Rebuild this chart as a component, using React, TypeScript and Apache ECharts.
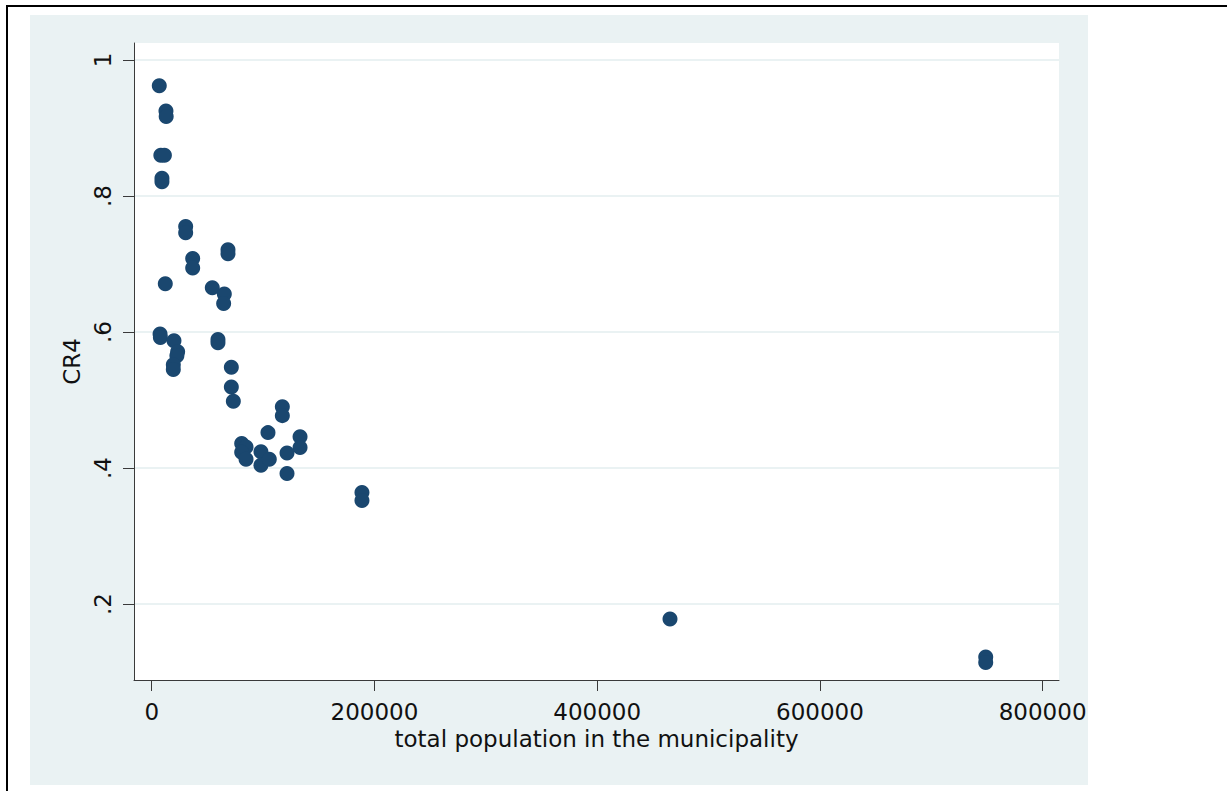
import React, { useEffect, useRef } from "react";
import * as echarts from "echarts";

// total population in the municipality
const population = [
  6800, 12800, 13000, 8200, 11400, 9200, 9200, 30500, 30500, 68500,
  68500, 36800, 36800, 12200, 54400, 65200, 64600, 7500, 7800, 20000,
  23300, 22600, 19400, 19400, 59500, 59500, 71500, 71500, 73300, 117300,
  117300, 104400, 133200, 133200, 80800, 84700, 80800, 84700, 98100, 98100,
  105600, 121500, 121500, 188800, 188800, 465400, 748900, 748900,
];
// CR4
const cr4 = [
  0.962, 0.925, 0.917, 0.86, 0.86, 0.826, 0.821, 0.755, 0.746, 0.721,
  0.715, 0.708, 0.694, 0.671, 0.665, 0.656, 0.642, 0.597, 0.592, 0.587,
  0.571, 0.565, 0.552, 0.545, 0.589, 0.584, 0.548, 0.519, 0.498, 0.49,
  0.477, 0.452, 0.446, 0.43, 0.436, 0.431, 0.423, 0.413, 0.424, 0.404,
  0.413, 0.422, 0.392, 0.364, 0.352, 0.178, 0.122, 0.114,
];
const xTicks = [0, 200000, 400000, 600000, 800000];
const yTicks = [0.2, 0.4, 0.6, 0.8, 1];
const xTitle = "total population in the municipality";
const yTitle = "CR4";

const FONT = "DejaVu Sans";
const AXIS = "#3a3a3a";

export default function App() {
  const ref = useRef<HTMLDivElement>(null);
  useEffect(() => {
    if (!ref.current) return;
    const chart = echarts.init(ref.current, undefined, { renderer: "svg" });
    const data = population.map((p, i) => [p, cr4[i]]);
    chart.setOption({
      animation: false,
      grid: {
        left: 134,
        top: 43,
        right: 168,
        bottom: 111,
        show: true,
        backgroundColor: "#ffffff",
        borderWidth: 0,
      },
      xAxis: {
        type: "value",
        min: -15900,
        max: 814700,
        name: xTitle,
        nameLocation: "middle",
        nameGap: 46,
        nameTextStyle: { fontFamily: FONT, fontSize: 23, color: "#111" },
        axisLine: { show: true, onZero: false, lineStyle: { color: AXIS, width: 1 } },
        axisTick: { show: true, length: 11, lineStyle: { color: AXIS }, customValues: xTicks },
        axisLabel: {
          fontFamily: FONT,
          fontSize: 23,
          color: "#111",
          margin: 20,
          customValues: xTicks,
          formatter: (v: number) => String(v),
        },
        splitLine: { show: false },
      },
      yAxis: {
        type: "value",
        min: 0.0882,
        max: 1.025,
        name: yTitle,
        nameLocation: "middle",
        nameRotate: 90,
        nameGap: 46,
        nameTextStyle: { fontFamily: FONT, fontSize: 23, color: "#111" },
        axisLine: { show: true, onZero: false, lineStyle: { color: AXIS, width: 1 } },
        axisTick: { show: true, length: 11, lineStyle: { color: AXIS }, customValues: yTicks },
        axisLabel: {
          fontFamily: FONT,
          fontSize: 23,
          color: "#111",
          margin: 20,
          rotate: 90,
          customValues: yTicks,
          formatter: (v: number) => {
            const s = String(Math.round(v * 10) / 10);
            return s.startsWith("0.") ? s.slice(1) : s;
          },
        },
        splitLine: { show: true, lineStyle: { color: "#eaf2f3", width: 2 } },
      },
      series: [
        {
          type: "scatter",
          data,
          symbol: "circle",
          symbolSize: 15,
          itemStyle: { color: "#1a476f", opacity: 1 },
        },
      ],
    });
    return () => chart.dispose();
  }, []);

  return (
    <div style={{ position: "fixed", left: 0, top: 0, width: 1227, height: 791, background: "#fff", overflow: "hidden" }}>
      <div
        style={{
          position: "absolute",
          left: 6,
          top: 5,
          width: 1400,
          height: 1000,
          borderTop: "2px solid #000",
          borderLeft: "2px solid #000",
        }}
      />
      <div style={{ position: "absolute", left: 30, top: 15, width: 1058, height: 770, background: "#eaf2f3" }} />
      <div ref={ref} style={{ position: "absolute", left: 0, top: 0, width: 1227, height: 791 }} />
    </div>
  );
}
